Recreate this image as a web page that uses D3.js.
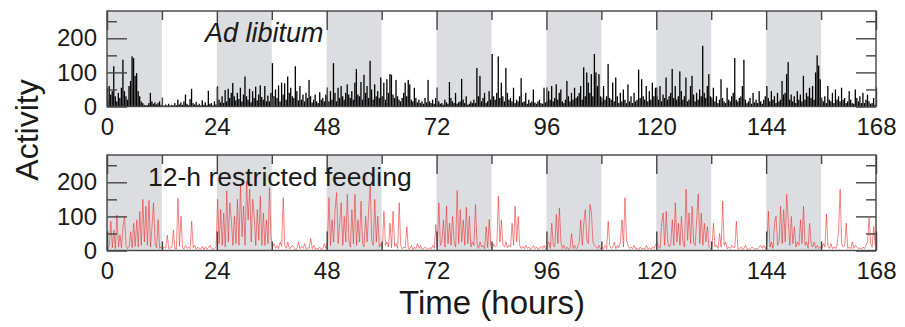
<!DOCTYPE html>
<html>
<head>
<meta charset="utf-8">
<script src="https://cdn.jsdelivr.net/npm/d3@7"></script>
<style>
  html, body { margin: 0; padding: 0; background: #fff; }
  svg { display: block; font-family: "Liberation Sans", Arial, sans-serif; }
</style>
</head>
<body>
<div id="chart"></div>
<script>
// 20-minute bins (3 per hour), 0-168 h, one line per 12 h
const adLibitum = [
  20,60,35,45,118,30,15,40,25,55,137,45,30,20,60,75,147,142,90,98,45,30,15,10,5,3,4,10,40,15,8,12,6,10,15,5,
  4,2,6,3,8,2,5,3,10,4,20,6,12,5,15,35,8,4,22,52,10,6,14,4,8,3,18,5,12,4,46,8,10,3,15,6,
  59,20,12,30,10,48,15,52,25,40,69,30,18,40,22,55,15,35,88,30,20,52,12,45,25,58,18,35,62,28,20,60,15,32,15,40,
  127,30,50,25,62,15,70,35,68,20,88,40,55,30,25,118,45,18,60,20,35,15,40,25,78,30,12,20,35,15,10,42,20,25,15,35,
  30,15,45,20,127,40,15,55,25,60,30,20,40,65,35,25,45,20,70,110,35,30,72,20,93,40,60,25,134,50,20,65,30,45,25,85,
  30,70,20,80,40,95,93,35,25,78,30,20,15,25,40,70,30,78,65,20,15,55,25,12,20,10,15,8,25,12,78,15,10,20,8,25,
  5,15,8,10,5,20,12,8,72,25,15,10,40,8,12,15,81,20,10,30,5,8,15,10,20,10,113,30,90,15,25,40,10,15,45,20,
  154,30,20,40,147,25,70,30,15,113,40,20,25,15,55,10,20,15,30,83,12,15,40,8,20,10,15,50,12,8,15,20,10,8,55,12,
  15,45,20,60,15,25,65,20,40,50,15,10,20,75,30,15,40,20,55,25,30,40,60,20,115,30,100,70,40,95,30,154,100,60,95,30,
  15,60,20,30,125,25,20,70,15,85,30,10,40,15,50,20,10,65,15,30,10,40,15,20,108,25,80,30,20,60,15,45,20,70,30,55,
  30,20,60,15,35,25,85,20,30,40,110,25,60,20,30,103,45,20,30,85,15,20,60,90,35,15,40,20,50,30,178,40,25,60,95,30,
  20,55,15,30,10,20,80,25,15,10,55,20,15,30,40,142,20,15,25,30,60,137,20,10,15,25,8,40,12,20,10,45,15,8,20,30,
  60,25,15,45,20,30,10,40,15,20,75,35,40,95,130,20,35,15,30,10,45,20,35,15,90,20,40,30,55,25,60,20,100,150,120,80,
  20,15,30,10,60,20,15,40,10,50,20,30,15,55,20,25,10,15,45,20,10,8,50,25,15,30,10,40,10,20,35,15,8,10,25,5
];

const restrictedFeeding = [
  5,12,86,8,60,5,104,10,45,8,70,100,15,5,10,55,8,80,12,90,10,115,15,150,25,130,15,147,10,70,140,20,8,90,6,12,
  4,10,6,45,5,8,10,60,6,4,153,12,100,8,5,15,6,10,5,86,8,15,4,10,6,5,12,3,10,4,8,15,5,3,6,10,
  150,20,120,15,110,10,175,25,140,90,15,100,20,150,15,194,40,130,15,204,90,180,25,150,100,15,120,30,160,15,110,15,90,20,184,40,
  10,20,6,15,5,25,12,155,15,6,25,5,8,15,10,3,6,25,5,12,6,20,3,8,6,35,5,15,4,6,5,10,3,8,20,6,
  25,155,15,90,25,120,170,20,80,140,15,100,25,165,30,10,120,20,165,15,90,25,145,20,10,100,25,120,194,30,15,150,25,100,10,20,
  6,115,15,25,10,80,8,115,12,20,6,140,15,5,10,8,70,6,5,15,3,10,5,20,6,15,3,5,10,6,3,8,5,15,6,76,
  10,140,15,25,90,10,130,20,80,15,100,25,10,176,20,120,25,90,15,127,20,100,10,25,15,135,20,6,25,10,15,5,70,8,91,15,
  6,20,10,15,160,25,90,15,10,25,8,15,10,80,15,130,25,100,15,6,12,5,15,6,10,3,8,15,5,10,3,6,12,5,15,4,
  10,25,6,80,15,10,106,20,125,25,6,15,5,10,3,8,50,6,15,5,10,25,90,15,80,120,30,20,135,110,25,15,10,6,15,5,
  10,6,15,5,86,15,6,10,25,5,15,8,25,90,10,155,30,15,6,10,5,15,4,8,3,10,5,6,3,15,5,8,3,10,6,15,
  25,10,6,80,110,15,115,25,10,20,90,15,140,25,80,15,100,25,10,180,30,110,20,130,25,15,90,165,20,110,15,80,25,70,10,6,
  8,80,10,15,6,50,10,145,15,25,5,10,6,15,8,10,86,6,5,10,3,6,15,4,3,5,10,8,3,6,5,10,15,6,15,5,
  15,115,10,25,6,80,101,15,25,130,20,120,25,165,90,15,100,20,70,10,25,15,90,20,130,15,25,6,80,20,10,25,6,15,5,10,
  6,20,10,106,15,6,20,5,10,6,15,60,180,20,10,15,80,6,10,5,25,6,15,10,5,8,3,10,6,15,25,96,20,10,70,15
];

const darkPhases = [[0, 12], [24, 36], [48, 60], [72, 84], [96, 108], [120, 132], [144, 156]];
const hourTicks = [0, 24, 48, 72, 96, 120, 144, 168];
const halfDayTicks = [12, 36, 60, 84, 108, 132, 156];
const activityTicks = [0, 100, 200];
const activityMinorTicks = [50, 150, 250];

const width = 905, height = 327;
const frameColor = "#444";

const svg = d3.select("#chart").append("svg")
  .attr("width", width)
  .attr("height", height);

const x = d3.scaleLinear().domain([0, 168]).range([107, 876]);
const binW = x(1 / 3) - x(0);

const panels = [
  { data: adLibitum, top: 11, bottom: 106.5, kind: "bars", label: "Ad libitum", italic: true, lx: 205, ly: 42 },
  { data: restrictedFeeding, top: 155, bottom: 250.5, kind: "line", label: "12-h restricted feeding", italic: false, lx: 148, ly: 186 }
];

panels.forEach(p => {
  const y = d3.scaleLinear().domain([0, 280]).range([p.bottom, p.top]);
  const g = svg.append("g");
  const pts = p.data.map((v, i) => ({ t: i / 3, v }));

  // light/dark shading
  g.selectAll("rect.dark")
    .data(darkPhases)
    .join("rect")
    .attr("class", "dark")
    .attr("x", d => x(d[0]))
    .attr("width", d => x(d[1]) - x(d[0]))
    .attr("y", p.top)
    .attr("height", p.bottom - p.top)
    .attr("fill", "#dcdde0");

  if (p.kind === "bars") {
    g.selectAll("rect.bin")
      .data(pts)
      .join("rect")
      .attr("class", "bin")
      .attr("x", d => x(d.t))
      .attr("width", binW * 0.85)
      .attr("y", d => y(d.v))
      .attr("height", d => y(0) - y(d.v))
      .attr("fill", "#000");
  } else {
    const line = d3.line()
      .x(d => x(d.t + 1 / 6))
      .y(d => y(d.v));
    g.append("path")
      .datum(pts)
      .attr("fill", "none")
      .attr("stroke", "#f03030")
      .attr("stroke-opacity", 0.85)
      .attr("stroke-width", 0.7)
      .attr("d", line);
  }

  const styleAxis = sel => {
    sel.select(".domain").remove();
    sel.selectAll("line").attr("stroke", frameColor).attr("stroke-width", 1.4);
    sel.selectAll("text")
      .attr("font-size", 24)
      .attr("fill", "#1a1a1a")
      .attr("font-family", "Liberation Sans, Arial, sans-serif");
  };

  // x ticks, bottom with labels
  g.append("g").attr("transform", `translate(0,${p.bottom})`)
    .call(d3.axisBottom(x).tickValues(hourTicks).tickSizeInner(-19).tickSizeOuter(0).tickPadding(11).tickFormat(d3.format("d")))
    .call(styleAxis);
  g.append("g").attr("transform", `translate(0,${p.bottom})`)
    .call(d3.axisBottom(x).tickValues(halfDayTicks).tickSizeInner(-9).tickSizeOuter(0).tickFormat(""))
    .call(styleAxis);
  g.append("g").attr("transform", `translate(0,${p.top})`)
    .call(d3.axisTop(x).tickValues(hourTicks).tickSizeInner(-19).tickSizeOuter(0).tickFormat(""))
    .call(styleAxis);
  g.append("g").attr("transform", `translate(0,${p.top})`)
    .call(d3.axisTop(x).tickValues(halfDayTicks).tickSizeInner(-9).tickSizeOuter(0).tickFormat(""))
    .call(styleAxis);

  // y ticks
  g.append("g").attr("transform", `translate(${x(0)},0)`)
    .call(d3.axisLeft(y).tickValues(activityTicks).tickSizeInner(-20).tickSizeOuter(0).tickPadding(10))
    .call(styleAxis);
  g.append("g").attr("transform", `translate(${x(0)},0)`)
    .call(d3.axisLeft(y).tickValues(activityMinorTicks).tickSizeInner(-10).tickSizeOuter(0).tickFormat(""))
    .call(styleAxis);
  g.append("g").attr("transform", `translate(${x(168)},0)`)
    .call(d3.axisRight(y).tickValues(activityTicks).tickSizeInner(-20).tickSizeOuter(0).tickFormat(""))
    .call(styleAxis);
  g.append("g").attr("transform", `translate(${x(168)},0)`)
    .call(d3.axisRight(y).tickValues(activityMinorTicks).tickSizeInner(-10).tickSizeOuter(0).tickFormat(""))
    .call(styleAxis);

  g.append("rect")
    .attr("x", x(0))
    .attr("y", p.top)
    .attr("width", x(168) - x(0))
    .attr("height", p.bottom - p.top)
    .attr("fill", "none")
    .attr("stroke", frameColor)
    .attr("stroke-width", 1.4);

  g.append("text")
    .attr("x", p.lx)
    .attr("y", p.ly)
    .attr("font-size", p.italic ? 27 : 26.5)
    .attr("font-style", p.italic ? "italic" : "normal")
    .attr("fill", "#1a1a1a")
    .text(p.label);
});

svg.append("text")
  .attr("transform", "translate(38,130) rotate(-90)")
  .attr("text-anchor", "middle")
  .attr("font-size", 32)
  .attr("fill", "#1a1a1a")
  .text("Activity");

svg.append("text")
  .attr("x", 492)
  .attr("y", 314)
  .attr("text-anchor", "middle")
  .attr("font-size", 33)
  .attr("fill", "#1a1a1a")
  .text("Time (hours)");
</script>
</body>
</html>
